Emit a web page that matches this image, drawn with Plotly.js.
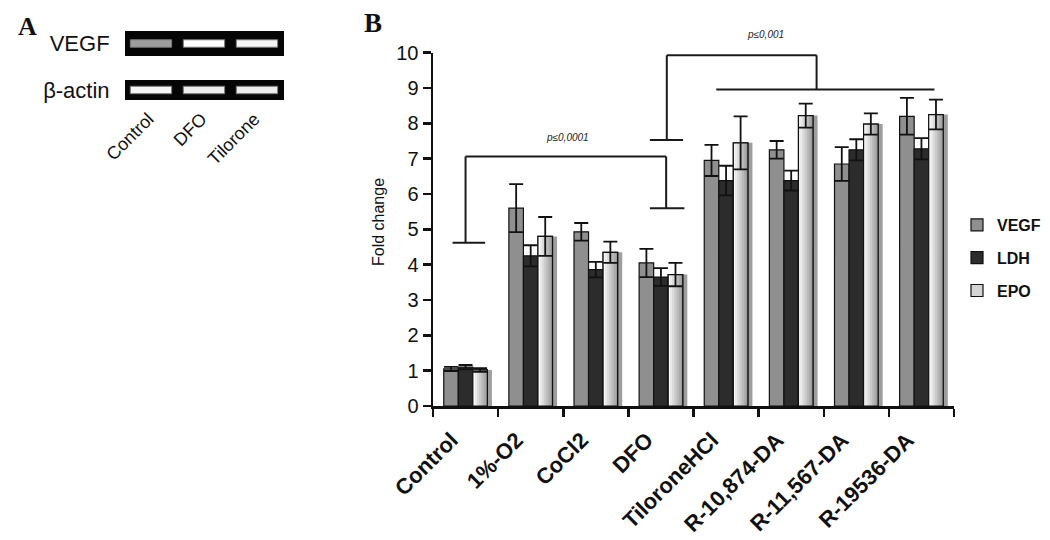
<!DOCTYPE html>
<html>
<head>
<meta charset="utf-8">
<script src="https://cdn.plot.ly/plotly-3.0.1.min.js"></script>
<style>
  html, body { margin: 0; padding: 0; background: #fff; }
  #chart { width: 1050px; height: 540px; }
</style>
</head>
<body>
<div id="chart"></div>
<script>
// Panel B — fold change per treatment, three transcripts (mean ± SE)
const categories = ['Control', '1%-O2', 'CoCl2', 'DFO', 'TiloroneHCl', 'R-10,874-DA', 'R-11,567-DA', 'R-19536-DA'];
const vegf    = [1.05, 5.6, 4.93, 4.05, 6.95, 7.25, 6.85, 8.2];
const vegfErr = [0.06, 0.68, 0.25, 0.4, 0.44, 0.25, 0.48, 0.52];
const ldh     = [1.1, 4.25, 3.86, 3.65, 6.38, 6.38, 7.25, 7.28];
const ldhErr  = [0.06, 0.3, 0.22, 0.25, 0.42, 0.28, 0.3, 0.3];
const epo     = [1.02, 4.8, 4.35, 3.72, 7.45, 8.22, 7.98, 8.25];
const epoErr  = [0.05, 0.55, 0.3, 0.33, 0.75, 0.34, 0.3, 0.42];

// Panel A — RT-PCR gel: lanes and relative band brightness (0 = black, 1 = white)
const lanes = ['Control', 'DFO', 'Tilorone'];
const gelRows = ['β-actin', 'VEGF'];
const vegfBand  = [0.62, 1.0, 0.96];
const actinBand = [0.96, 0.93, 0.93];

// significance brackets, in category index / fold-change units
// each: list of [x0, y0, x1, y1] segments
const bracketLow = [
  [-0.2, 4.62, 0.3, 4.62], [0, 4.62, 0, 7.06], [0, 7.06, 3.08, 7.06],
  [3.08, 7.06, 3.08, 5.6], [2.83, 5.6, 3.36, 5.6],
];
const bracketHigh = [
  [2.83, 7.53, 3.34, 7.53], [3.09, 7.53, 3.09, 9.93], [3.09, 9.93, 5.39, 9.93],
  [5.39, 9.93, 5.39, 8.96], [3.85, 8.96, 7.2, 8.96],
];

const SANS = 'Liberation Sans, Arial, sans-serif';
const SERIF = 'Liberation Serif, Times New Roman, serif';
const W = 1050, H = 540;
const px = (x) => x / W;
const py = (y) => (H - y) / H;

// bar geometry within one category slot (explicit so the EPO gradient slices line up)
const BW = 0.2233;
const OFF = { VEGF: -1.5 * BW, LDH: -0.5 * BW, EPO: 0.5 * BW };

const traces = [];

// soft shadow to the right of each EPO bar
traces.push({
  type: 'bar', x: categories, y: epo, offset: OFF.EPO + BW, width: 0.07,
  marker: { color: 'rgba(40,40,40,0.45)', line: { width: 0 } },
  showlegend: false, hoverinfo: 'skip',
});

const solid = [
  { name: 'VEGF', y: vegf, err: vegfErr, color: '#8f8f8f' },
  { name: 'LDH',  y: ldh,  err: ldhErr,  color: '#2c2c2c' },
];
solid.forEach((s) => traces.push({
  type: 'bar', x: categories, y: s.y, name: s.name, legendgroup: s.name,
  offset: OFF[s.name], width: BW,
  marker: { color: s.color, line: { color: '#111', width: 1.2 } },
  error_y: { type: 'data', array: s.err, visible: true, color: '#111', thickness: 1.8, width: 7 },
}));

// EPO: legend entry, then gradient slices (white -> grey), then outline + error bars
traces.push({
  type: 'bar', x: categories, y: epo, name: 'EPO', legendgroup: 'EPO',
  offset: OFF.EPO, width: BW,
  marker: { color: '#d4d4d4', line: { color: '#111', width: 1.2 } },
});
const NSLICE = 7;
for (let k = 0; k < NSLICE; k++) {
  const t = k / (NSLICE - 1);
  const c = Math.round(250 - t * 95);
  traces.push({
    type: 'bar', x: categories, y: epo, offset: OFF.EPO + (k * BW) / NSLICE, width: BW / NSLICE + 0.002,
    marker: { color: `rgb(${c},${c},${c})`, line: { width: 0 } },
    showlegend: false, hoverinfo: 'skip',
  });
}
traces.push({
  type: 'bar', x: categories, y: epo, offset: OFF.EPO, width: BW,
  marker: { color: 'rgba(0,0,0,0)', line: { color: '#111', width: 1.2 } },
  error_y: { type: 'data', array: epoErr, visible: true, color: '#111', thickness: 1.8, width: 7 },
  showlegend: false, hoverinfo: 'skip',
});

// gel background strips
const gray = (v) => { const c = Math.round(v * 255); return `rgb(${c},${c},${c})`; };
traces.push({
  type: 'bar', orientation: 'h', y: gelRows, x: gelRows.map(() => lanes.length),
  base: gelRows.map(() => 0), width: [0.43, 0.54], offset: [-0.215, -0.27],
  marker: { color: '#050505', line: { width: 0 } }, showlegend: false, hoverinfo: 'skip',
  xaxis: 'x2', yaxis: 'y2',
});
// gel bands, one trace per lane
lanes.forEach((lane, i) => {
  traces.push({
    type: 'bar', orientation: 'h', y: gelRows, x: [0.78, 0.78],
    base: [i + 0.1, i + 0.1], width: 0.16, offset: -0.08,
    marker: { color: [gray(actinBand[i]), gray(vegfBand[i])], line: { color: '#777', width: 1 } },
    showlegend: false, hoverinfo: 'skip', name: lane,
    xaxis: 'x2', yaxis: 'y2',
  });
});

const shapes = [...bracketLow, ...bracketHigh].map(([x0, y0, x1, y1]) => ({
  type: 'line', xref: 'x', yref: 'y', x0, y0, x1, y1,
  line: { color: '#1a1a1a', width: 2 },
}));

const pFont = { family: SANS, size: 10, style: 'italic', color: '#222' };
const paperNote = (text, x, y, font, extra = {}) => ({
  text, x: px(x), y: py(y), xref: 'paper', yref: 'paper',
  xanchor: 'center', yanchor: 'middle', showarrow: false, font, ...extra,
});
const annotations = [
  { text: 'p≤0,0001', x: 1.56, y: 7.59, xref: 'x', yref: 'y', showarrow: false, font: pFont },
  { text: 'p≤0,001', x: 4.6, y: py(35), xref: 'x', yref: 'paper',
    xanchor: 'center', yanchor: 'middle', showarrow: false, font: pFont },
  paperNote('Fold change', 378, 222, { family: SANS, size: 16, color: '#111' }, { textangle: -90 }),
  paperNote('<b>A</b>', 27, 26, { family: SERIF, size: 26, color: '#111' }),
  paperNote('<b>B</b>', 373, 23, { family: SERIF, size: 27, color: '#111' }),
];

const layout = {
  width: W, height: H,
  margin: { l: 0, r: 0, t: 0, b: 0 },
  paper_bgcolor: '#fff', plot_bgcolor: 'rgba(0,0,0,0)',
  barmode: 'overlay',
  font: { family: SANS, color: '#111' },
  xaxis: {
    domain: [px(433), px(954)], anchor: 'y', type: 'category',
    showline: true, linecolor: '#111', linewidth: 2.5,
    ticks: 'outside', tickson: 'boundaries', ticklen: 8, tickwidth: 2.5, tickcolor: '#111',
    tickangle: -45, ticklabelshift: -14, ticklabelstandoff: 10,
    tickfont: { family: SANS, size: 22, weight: 'bold', color: '#111' },
    showgrid: false, zeroline: false, automargin: false, fixedrange: true,
  },
  yaxis: {
    domain: [py(406), py(52.7)], anchor: 'x', range: [0, 10], dtick: 1,
    showline: true, linecolor: '#111', linewidth: 2.5,
    ticks: 'outside', ticklen: 8, tickwidth: 2.5, tickcolor: '#111',
    tickfont: { family: SANS, size: 20, color: '#111' },
    showgrid: false, zeroline: false, automargin: false, fixedrange: true,
  },
  xaxis2: {
    domain: [px(125), px(284)], anchor: 'free', position: py(104), range: [0, lanes.length],
    tickvals: lanes.map((_, i) => i + 0.5), ticktext: lanes,
    tickangle: -45, ticklabelshift: -3,
    tickfont: { family: SANS, size: 18, color: '#111' },
    ticks: '', showline: false, showgrid: false, zeroline: false, automargin: false,
  },
  yaxis2: {
    domain: [py(113.25), py(20.25)], anchor: 'x2', type: 'category',
    categoryarray: gelRows, range: [-0.5, 1.5],
    ticks: 'outside', ticklen: 10, tickcolor: 'rgba(0,0,0,0)',
    tickfont: { family: SANS, size: 22, color: '#111' },
    showline: false, showgrid: false, zeroline: false, automargin: false,
  },
  legend: {
    x: px(957), y: py(258), xanchor: 'left', yanchor: 'middle',
    traceorder: 'grouped', tracegroupgap: 9,
    font: { family: SANS, size: 16, weight: 'bold', color: '#111' },
    bgcolor: 'rgba(0,0,0,0)',
  },
  shapes, annotations,
};

Plotly.newPlot('chart', traces, layout, { displayModeBar: false, staticPlot: true });
</script>
</body>
</html>
